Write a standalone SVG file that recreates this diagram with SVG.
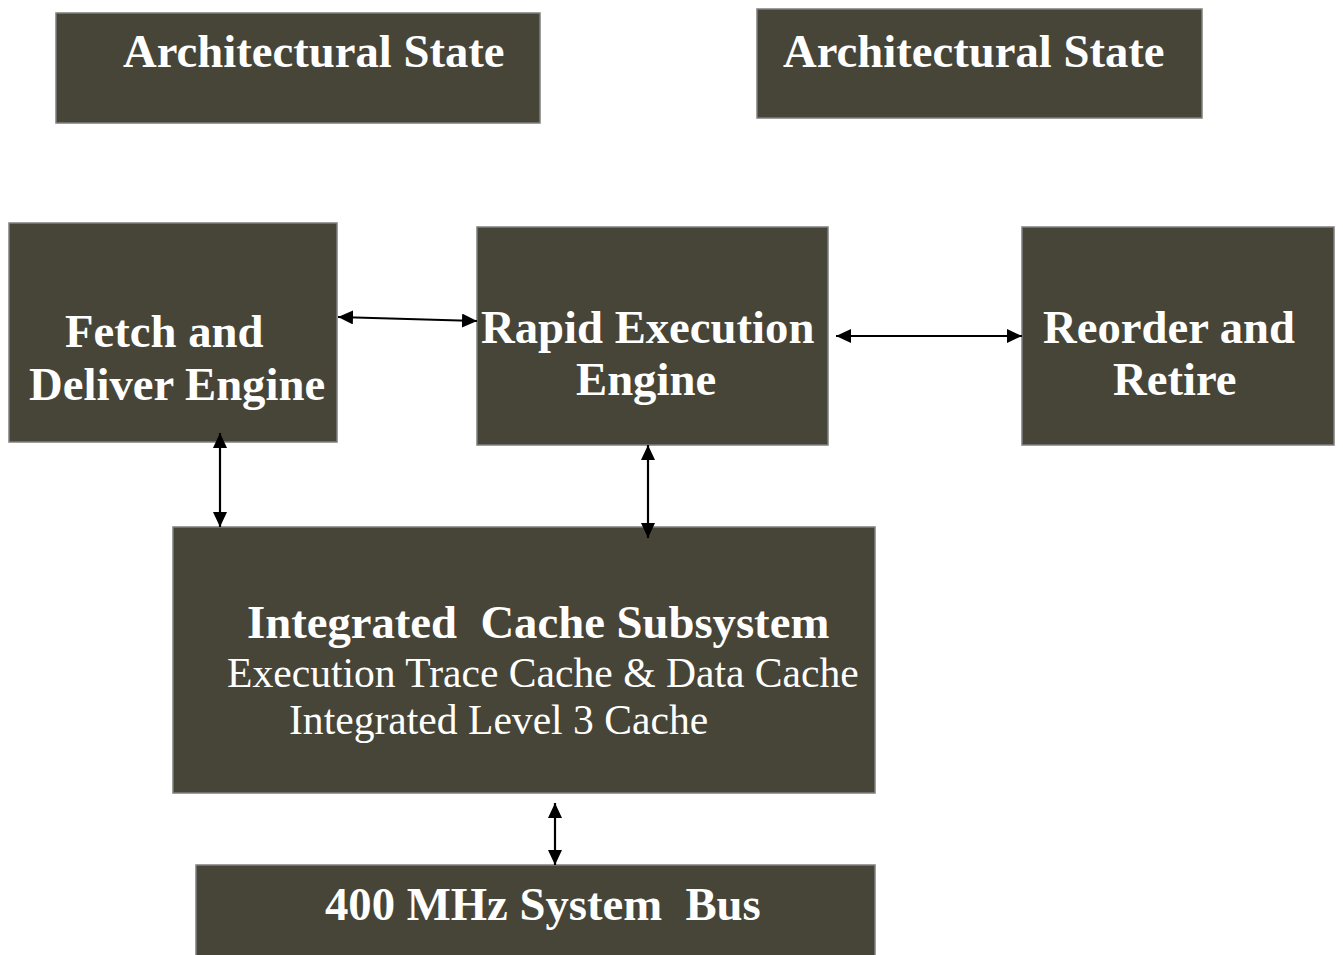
<svg xmlns="http://www.w3.org/2000/svg" width="1343" height="955" viewBox="0 0 1343 955">
  <style>
    .box { fill: #474538; stroke: #7f7f7f; stroke-width: 1.5; }
    .t { font-family: "Liberation Serif", "Times New Roman", serif; fill: #ffffff; white-space: pre; }
    .b { font-weight: bold; font-size: 46.7px; }
    .r { font-size: 41.6px; }
    .link { stroke: #000000; stroke-width: 2.2; fill: none; marker-start: url(#ah); marker-end: url(#ah); }
  </style>
  <defs>
    <marker id="ah" viewBox="0 0 15 14" refX="15" refY="7" markerWidth="15" markerHeight="14" markerUnits="userSpaceOnUse" orient="auto-start-reverse">
      <path d="M0,0 L15,7 L0,14 Z" fill="#000000"/>
    </marker>
  </defs>
  <rect width="1343" height="955" fill="#ffffff"/>

  <g id="arch-state-1">
    <rect class="box" x="56" y="13" width="484" height="110"/>
    <text class="t b" x="123" y="67">Architectural State</text>
  </g>
  <g id="arch-state-2">
    <rect class="box" x="757" y="9" width="445" height="109"/>
    <text class="t b" x="783" y="67">Architectural State</text>
  </g>
  <g id="fetch-deliver">
    <rect class="box" x="9" y="223" width="328" height="219"/>
    <text class="t b" x="65" y="347">Fetch and</text>
    <text class="t b" x="29" y="400">Deliver Engine</text>
  </g>
  <g id="rapid-execution">
    <rect class="box" x="477" y="227" width="351" height="218"/>
    <text class="t b" x="481" y="343">Rapid Execution</text>
    <text class="t b" x="576" y="395">Engine</text>
  </g>
  <g id="reorder-retire">
    <rect class="box" x="1022" y="227" width="312" height="218"/>
    <text class="t b" x="1043" y="343">Reorder and</text>
    <text class="t b" x="1113" y="395">Retire</text>
  </g>
  <g id="cache-subsystem">
    <rect class="box" x="173" y="527" width="702" height="266"/>
    <text class="t b" x="247" y="638">Integrated  Cache Subsystem</text>
    <text class="t r" x="227" y="687">Execution Trace Cache &amp; Data Cache</text>
    <text class="t r" x="289" y="734">Integrated Level 3 Cache</text>
  </g>
  <g id="system-bus">
    <rect class="box" x="196" y="865" width="679" height="95"/>
    <text class="t b" x="325" y="920">400 MHz System  Bus</text>
  </g>

  <g id="connectors">
    <line class="link" x1="338" y1="317" x2="477" y2="321"/>
    <line class="link" x1="836" y1="336" x2="1022" y2="336"/>
    <line class="link" x1="220" y1="433" x2="220" y2="527"/>
    <line class="link" x1="648" y1="445" x2="648" y2="538"/>
    <line class="link" x1="555" y1="803" x2="555" y2="865"/>
  </g>
</svg>
